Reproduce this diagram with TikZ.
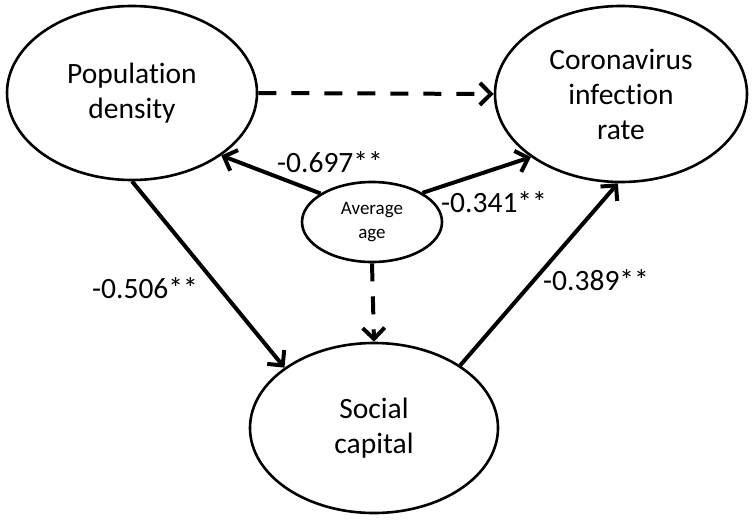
\documentclass[tikz,border=0pt]{standalone}
\usepackage{fontspec}
\setmainfont{Carlito}[Ligatures=NoCommon]
\usetikzlibrary{arrows.meta,shapes.geometric}
\begin{document}
\begin{tikzpicture}[x=1pt,y=-1pt,
  bigell/.style={ellipse,draw=black,line width=2.6pt,inner sep=0pt,align=center,
    font=\fontsize{29.5}{35}\selectfont,text=black},
  smallell/.style={ellipse,draw=black,line width=2.6pt,inner sep=0pt,align=center,
    font=\fontsize{19}{24}\selectfont,text=black,minimum width=140pt,minimum height=80pt},
  path/.style={line width=4pt,-{Straight Barb[length=11pt,width=22pt]}},
  dpath/.style={path,dash pattern=on 18pt off 15pt},
  coef/.style={font=\fontsize{29.5}{35}\selectfont,text=black,inner sep=0pt}]
\useasboundingbox (0,0) rectangle (752,522);
\node[bigell,minimum width=250pt,minimum height=174pt] (pop) at (132,93) {Population\\density};
\node[bigell,minimum width=252pt,minimum height=176pt] (cor) at (621,94) {Coronavirus\\infection\\rate};
\node[bigell,minimum width=248pt,minimum height=170pt] (soc) at (374,428) {Social\\capital};
\node[smallell] (age) at (372,222) {Average\\age};
\draw[dpath] (pop.east) -- (cor.west);
\draw[path] (age.151) -- (pop.-35);
\draw[path] (age.30) -- (cor.-145);
\draw[dpath] (age.south) -- (soc.north);
\draw[path] (pop.south) -- (soc.146);
\draw[path] (soc.36) -- (cor.-92);
\node[coef] (l1) at (330,162) {-0.697**};
\node[coef] (l2) at (494,202) {-0.341**};
\node[coef] (l3) at (145,288) {-0.506**};
\node[coef] (l4) at (596,280) {-0.389**};
\end{tikzpicture}
\end{document}
